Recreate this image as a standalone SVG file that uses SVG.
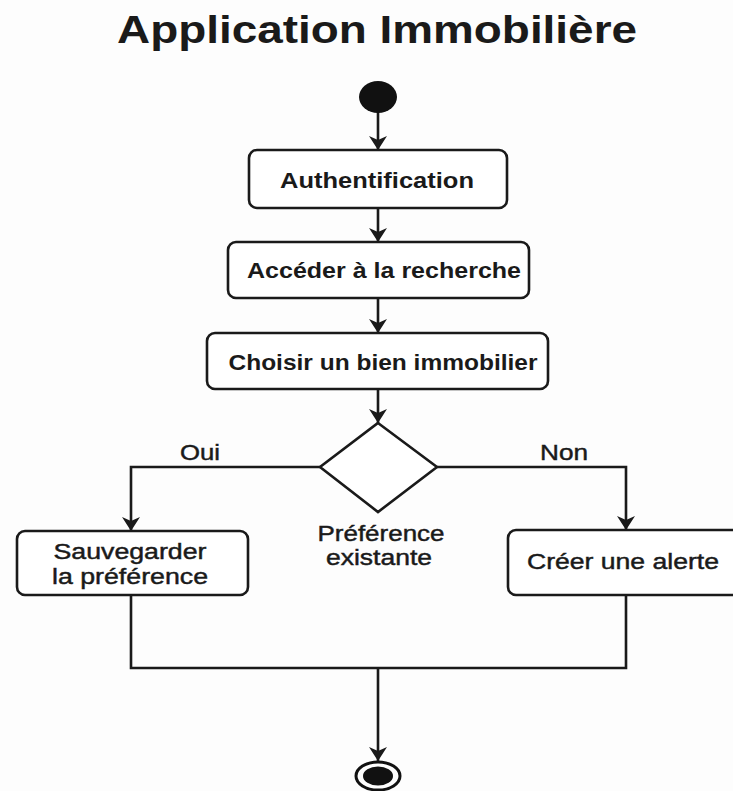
<svg xmlns="http://www.w3.org/2000/svg" width="733" height="791" viewBox="0 0 733 791">
<defs>
<style>
.bg{fill:#fdfdfd}
.box{fill:#ffffff;stroke:#1a1a1a;stroke-width:2.6}
.dia{fill:#ffffff;stroke:#1a1a1a;stroke-width:2.6}
.con{fill:none;stroke:#1a1a1a;stroke-width:2.6}
.t{font-family:"Liberation Sans",Arial,sans-serif;fill:#1a1a1a;text-anchor:middle}
.title{font-size:38px;font-weight:bold}
.b{font-size:22px;font-weight:bold}
.r{font-size:22px;stroke:#1a1a1a;stroke-width:0.45}
</style>
<marker id="ah" markerUnits="userSpaceOnUse" markerWidth="14" markerHeight="18" viewBox="0 0 14 18" refX="14" refY="9" orient="auto">
<path d="M0,0 L14,9 L0,18 L4,9 Z" fill="#1a1a1a"/>
</marker>
</defs>
<rect class="bg" x="0" y="0" width="733" height="791"/>
<text class="t title" x="377" y="43" textLength="520" lengthAdjust="spacingAndGlyphs">Application Immobilière</text>

<g id="connectors">
<line class="con" x1="378" y1="112" x2="378" y2="150" marker-end="url(#ah)"/>
<line class="con" x1="378" y1="208" x2="378" y2="242" marker-end="url(#ah)"/>
<line class="con" x1="378" y1="298" x2="378" y2="333" marker-end="url(#ah)"/>
<line class="con" x1="378" y1="389" x2="378" y2="423" marker-end="url(#ah)"/>
<polyline class="con" points="320,467 131,467 131,531" marker-end="url(#ah)"/>
<polyline class="con" points="437,467 626,467 626,530" marker-end="url(#ah)"/>
<polyline class="con" points="131,595 131,668 626,668 626,595"/>
<line class="con" x1="378" y1="668" x2="378" y2="761" marker-end="url(#ah)"/>
<text class="t r" x="200" y="460" textLength="40" lengthAdjust="spacingAndGlyphs">Oui</text>
<text class="t r" x="564" y="460" textLength="48" lengthAdjust="spacingAndGlyphs">Non</text>
</g>

<g id="start">
<ellipse cx="378" cy="97" rx="19" ry="16" fill="#111"/>
</g>

<g id="authentification">
<rect class="box" x="249" y="150" width="258" height="58" rx="8"/>
<text class="t b" x="377" y="188" textLength="194" lengthAdjust="spacingAndGlyphs">Authentification</text>
</g>

<g id="acceder">
<rect class="box" x="228" y="242" width="301" height="56" rx="8"/>
<text class="t b" x="384" y="278" textLength="274" lengthAdjust="spacingAndGlyphs">Accéder à la recherche</text>
</g>

<g id="choisir">
<rect class="box" x="207" y="333" width="341" height="56" rx="8"/>
<text class="t b" x="383" y="370" textLength="309" lengthAdjust="spacingAndGlyphs">Choisir un bien immobilier</text>
</g>

<g id="decision">
<polygon class="dia" points="378,423 437,467 378,512 320,467"/>
<text class="t r" x="381" y="541" textLength="127" lengthAdjust="spacingAndGlyphs">Préférence</text>
<text class="t r" x="379" y="565" textLength="106" lengthAdjust="spacingAndGlyphs">existante</text>
</g>

<g id="sauvegarder">
<rect class="box" x="17" y="531" width="231" height="64" rx="8"/>
<text class="t r" x="130" y="559" textLength="153" lengthAdjust="spacingAndGlyphs">Sauvegarder</text>
<text class="t r" x="130" y="584" textLength="156" lengthAdjust="spacingAndGlyphs">la préférence</text>
</g>

<g id="alerte">
<rect class="box" x="508" y="530" width="250" height="65" rx="8"/>
<text class="t r" x="623" y="569" textLength="192" lengthAdjust="spacingAndGlyphs">Créer une alerte</text>
</g>

<g id="end">
<ellipse cx="378" cy="776" rx="22" ry="14" fill="none" stroke="#111" stroke-width="3"/>
<ellipse cx="378" cy="776" rx="15" ry="9.5" fill="#111"/>
</g>
</svg>
